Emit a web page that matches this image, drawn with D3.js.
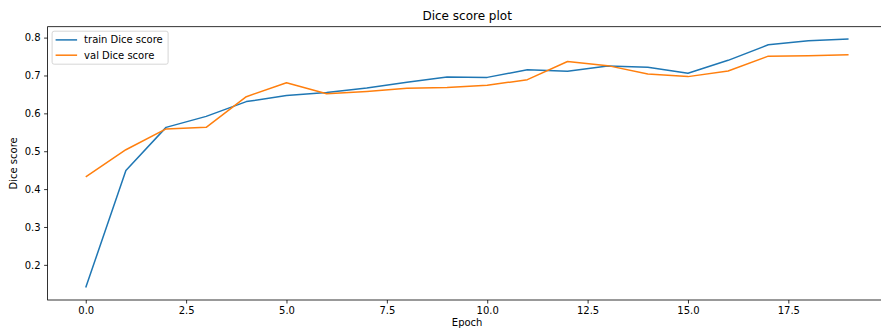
<!DOCTYPE html>
<html>
<head>
<meta charset="utf-8">
<script src="https://cdn.jsdelivr.net/npm/d3@7"></script>
<style>
  body { margin: 0; background: #fff; }
  svg { display: block; font-family: "DejaVu Sans", sans-serif; }
</style>
</head>
<body>
<svg id="chart" width="881" height="329"></svg>
<script>
// values
const epochs = d3.range(0, 20)
const trainDice = [0.140, 0.449, 0.563, 0.592, 0.631, 0.647, 0.655, 0.667, 0.682, 0.696,
                   0.695, 0.715, 0.711, 0.725, 0.722, 0.706, 0.740, 0.781, 0.792, 0.796]
const valDice = [0.432, 0.504, 0.559, 0.563, 0.644, 0.681, 0.652, 0.658, 0.666, 0.668,
                 0.674, 0.689, 0.737, 0.726, 0.704, 0.697, 0.712, 0.751, 0.752, 0.755]
const xTicks = [0, 2.5, 5, 7.5, 10, 12.5, 15, 17.5]
const yTicks = [0.2, 0.3, 0.4, 0.5, 0.6, 0.7, 0.8]
const seriesNames = ['train Dice score', 'val Dice score']
const colors = ['#1f77b4', '#ff7f0e']

const box = { left: 47.6, right: 886.7, top: 26.7, bottom: 300 }
const svg = d3.select('#chart')

// matplotlib style 5% margins
const xPad = 19 * 0.05
const x = d3.scaleLinear().domain([-xPad, 19 + xPad]).range([box.left, box.right])
const all = trainDice.concat(valDice)
const lo = d3.min(all), hi = d3.max(all), yPad = (hi - lo) * 0.05
const y = d3.scaleLinear().domain([lo - yPad, hi + yPad]).range([box.bottom, box.top])

// lines
const line = d3.line()
    .x((d, i) => x(epochs[i]))
    .y(d => y(d))

;[trainDice, valDice].forEach((s, k) => {
    svg.append('path')
        .datum(s)
        .attr('fill', 'none')
        .attr('stroke', colors[k])
        .attr('stroke-width', 1.5)
        .attr('stroke-linejoin', 'round')
        .attr('d', line)
})

// axes
const xAxis = svg.append('g')
    .attr('transform', `translate(0,${box.bottom})`)
    .call(d3.axisBottom(x).tickValues(xTicks).tickFormat(d3.format('.1f')).tickSizeInner(3.5).tickSizeOuter(0).tickPadding(3.5))
const yAxis = svg.append('g')
    .attr('transform', `translate(${box.left},0)`)
    .call(d3.axisLeft(y).tickValues(yTicks).tickFormat(d3.format('.1f')).tickSizeInner(3.5).tickSizeOuter(0).tickPadding(3.5))

;[xAxis, yAxis].forEach(g => {
    g.select('.domain').remove()
    g.selectAll('line').attr('stroke', '#000').attr('stroke-width', 0.8)
    g.selectAll('text').attr('font-size', 10).attr('fill', '#000').attr('font-family', '"DejaVu Sans", sans-serif')
})

// spines
svg.append('rect')
    .attr('x', box.left).attr('y', box.top)
    .attr('width', box.right - box.left).attr('height', box.bottom - box.top)
    .attr('fill', 'none').attr('stroke', '#000').attr('stroke-width', 0.8)

// title and labels
svg.append('text')
    .attr('x', (box.left + box.right) / 2).attr('y', 20)
    .attr('text-anchor', 'middle').attr('font-size', 12)
    .text('Dice score plot')
svg.append('text')
    .attr('x', (box.left + box.right) / 2).attr('y', 326)
    .attr('text-anchor', 'middle').attr('font-size', 10)
    .text('Epoch')
svg.append('text')
    .attr('transform', `translate(17,${(box.top + box.bottom) / 2}) rotate(-90)`)
    .attr('text-anchor', 'middle').attr('font-size', 10)
    .text('Dice score')

// legend
const lg = svg.append('g').attr('transform', `translate(${box.left + 4.5},${box.top + 4.5})`)
lg.append('rect')
    .attr('width', 116).attr('height', 33).attr('rx', 2)
    .attr('fill', 'rgba(255,255,255,0.8)').attr('stroke', '#cccccc').attr('stroke-width', 0.8)
seriesNames.forEach((name, k) => {
    const yy = 8.7 + k * 15.3
    lg.append('line')
        .attr('x1', 3.5).attr('x2', 25)
        .attr('y1', yy).attr('y2', yy)
        .attr('stroke', colors[k]).attr('stroke-width', 1.5)
    lg.append('text')
        .attr('x', 32).attr('y', yy + 3.6)
        .attr('font-size', 10)
        .text(name)
})
</script>
</body>
</html>
